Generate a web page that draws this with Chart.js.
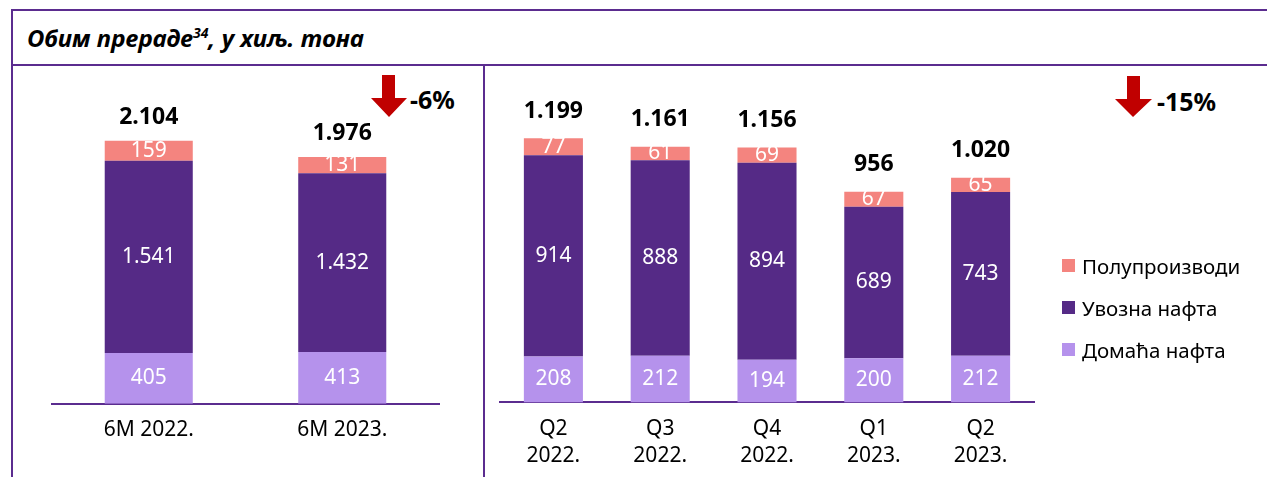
<!DOCTYPE html>
<html>
<head>
<meta charset="utf-8">
<script src="https://cdn.jsdelivr.net/npm/chart.js@4"></script>
<style>
  body { margin:0; width:1267px; height:477px; background:#fff; position:relative; overflow:hidden; font-family:'Noto Sans', sans-serif; }
  .line { position:absolute; background:#5B2C8F; }
  #title { position:absolute; left:27px; top:21px; font-size:24px; line-height:33px; font-weight:bold; font-style:italic; color:#000; white-space:nowrap; }
  #title sup { font-size:14px; line-height:0; }
  .chg { position:absolute; font-size:25px; font-weight:bold; color:#000; }
  .wrap { position:absolute; }
  #legend { position:absolute; left:1062px; top:253px; font-size:20.5px; color:#000; }
  #legend div { position:relative; height:42px; line-height:26px; padding-left:20px; white-space:nowrap; }
  #legend span { position:absolute; left:0; top:6px; width:13px; height:13px; }
</style>
</head>
<body>
<div class="line" style="left:12px;top:9px;width:1255px;height:2px"></div>
<div class="line" style="left:12px;top:64px;width:1255px;height:2px"></div>
<div class="line" style="left:11px;top:9px;width:2px;height:468px"></div>
<div class="line" style="left:483px;top:64px;width:2px;height:413px"></div>
<div id="title">Обим прераде<sup>34</sup>, у хиљ. тона</div>

<svg style="position:absolute;left:0;top:0" width="1267" height="477">
  <polygon points="382,75 395,75 395,98 407,98 389,117 371,98 382,98" fill="#C00000"/>
  <polygon points="1127,76 1140,76 1140,99 1152,99 1133,117 1115,99 1127,99" fill="#C00000"/>
</svg>
<div class="chg" id="chgLeft" style="left:410px;top:82px"></div>
<div class="chg" id="chgRight" style="left:1157px;top:84px"></div>

<div class="wrap" style="left:14px;top:66px"><canvas id="leftChart" width="468" height="424"></canvas></div>
<div class="wrap" style="left:486px;top:66px"><canvas id="rightChart" width="781" height="424"></canvas></div>
<div id="legend"></div>

<script>
// data
const leftCats = ['6M 2022.', '6M 2023.'];
const leftDomestic = [405, 413];
const leftImported = [1541, 1432];
const leftSemi = [159, 131];
const leftTotals = [2104, 1976];

const rightCats = [['Q2', '2022.'], ['Q3', '2022.'], ['Q4', '2022.'], ['Q1', '2023.'], ['Q2', '2023.']];
const rightDomestic = [208, 212, 194, 200, 212];
const rightImported = [914, 888, 894, 689, 743];
const rightSemi = [77, 61, 69, 67, 65];
const rightTotals = [1199, 1161, 1156, 956, 1020];

const seriesNames = ['Домаћа нафта', 'Увозна нафта', 'Полупроизводи'];
const changeLeft = '-6%';
const changeRight = '-15%';

const colors = ['#B592EC', '#552A86', '#F4847F'];

Chart.defaults.font.family = "'Noto Sans', sans-serif";
Chart.defaults.color = '#000';

function fmt(n) {
    return String(n).replace(/\B(?=(\d{3})+(?!\d))/g, '.');
}

const valueLabels = {
    id: 'valueLabels',
    afterDatasetsDraw(chart, args, opts) {
        const ctx = chart.ctx;
        ctx.save();
        ctx.textAlign = 'center';
        ctx.textBaseline = 'middle';
        ctx.fillStyle = '#fff';
        ctx.font = '21px "Noto Sans"';
        chart.data.datasets.forEach((ds, i) => {
            chart.getDatasetMeta(i).data.forEach((bar, j) => {
                ctx.fillText(fmt(ds.data[j]), bar.x, (bar.y + bar.base) / 2);
            });
        });
        const topMeta = chart.getDatasetMeta(chart.data.datasets.length - 1);
        ctx.fillStyle = '#000';
        ctx.font = 'bold 23px "Noto Sans"';
        topMeta.data.forEach((bar, j) => {
            ctx.fillText(fmt(opts.totals[j]), bar.x, bar.y - opts.gap);
        });
        ctx.restore();
    }
};

function makeChart(id, cats, series, totals, barPct, yMax, pad, tickPad, gap) {
    return new Chart(document.getElementById(id), {
        type: 'bar',
        data: {
            labels: cats,
            datasets: series.map((d, i) => ({
                label: seriesNames[i],
                data: d,
                backgroundColor: colors[i],
                borderWidth: 0,
                barPercentage: barPct,
                categoryPercentage: 1
            }))
        },
        options: {
            responsive: false,
            animation: false,
            devicePixelRatio: 1,
            layout: { padding: pad },
            scales: {
                x: {
                    stacked: true,
                    grid: { display: false, drawTicks: false },
                    border: { display: true, color: '#5B2C8F', width: 2 },
                    ticks: { padding: tickPad, font: { size: 21, lineHeight: 1.3 }, color: '#000', maxRotation: 0 }
                },
                y: { stacked: true, display: false, min: 0, max: yMax }
            },
            plugins: {
                legend: { display: false },
                tooltip: { enabled: false },
                valueLabels: { totals: totals, gap: gap }
            }
        },
        plugins: [valueLabels]
    });
}

makeChart('leftChart', leftCats, [leftDomestic, leftImported, leftSemi], leftTotals,
    0.455, 2592, { top: 14, left: 38, right: 43, bottom: 33 }, 13, 23);
makeChart('rightChart', rightCats, [rightDomestic, rightImported, rightSemi], rightTotals,
    0.553, 1464, { top: 14, left: 14, right: 233, bottom: 7 }, 13, 27);

document.getElementById('chgLeft').textContent = changeLeft;
document.getElementById('chgRight').textContent = changeRight;

const legendEl = document.getElementById('legend');
[2, 1, 0].forEach(i => {
    const row = document.createElement('div');
    const sw = document.createElement('span');
    sw.style.background = colors[i];
    row.appendChild(sw);
    row.appendChild(document.createTextNode(seriesNames[i]));
    legendEl.appendChild(row);
});
</script>
</body>
</html>
